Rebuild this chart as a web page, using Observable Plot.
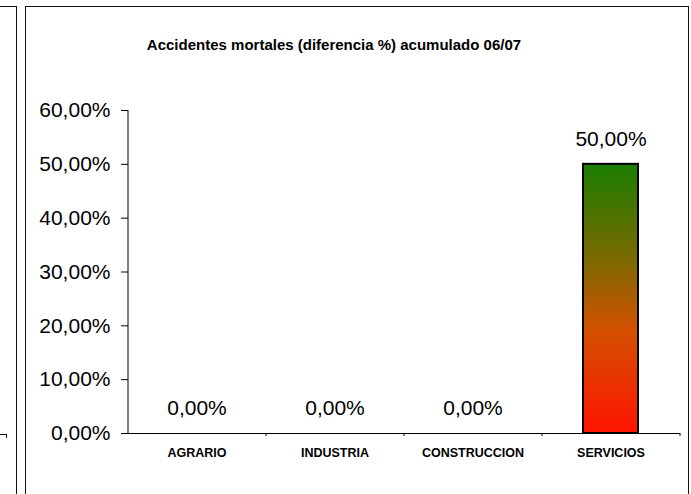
<!DOCTYPE html>
<html>
<head>
<meta charset="utf-8">
<script src="https://cdn.jsdelivr.net/npm/d3@7"></script>
<script src="https://cdn.jsdelivr.net/npm/@observablehq/plot@0.6"></script>
<style>
html, body { margin: 0; padding: 0; background: #fff; }
#wrap { position: relative; width: 691px; height: 494px; overflow: hidden; font-family: "Liberation Sans", Arial, sans-serif; }
.box { position: absolute; box-sizing: border-box; border: 1px solid #111; }
.ln { position: absolute; background: #111; }
#title { position: absolute; left: 134px; top: 36px; width: 400px; text-align: center; font-weight: bold; font-size: 15px; line-height: 18px; color: #000; white-space: nowrap; }
#chart { position: absolute; left: 0; top: 0; }
</style>
</head>
<body>
<div id="wrap">
  <div class="box" style="left:-10px; top:6px; width:27px; height:520px;"></div>
  <div class="box" style="left:25px; top:6px; width:664px; height:520px;"></div>
  <div class="ln" style="left:0px; top:434px; width:7px; height:1px;"></div>
  <div class="ln" style="left:6px; top:434px; width:1px; height:4px;"></div>
  <div id="title">Accidentes mortales (diferencia %) acumulado 06/07</div>
  <div id="chart"></div>
</div>
<script>
const categories = ["AGRARIO", "INDUSTRIA", "CONSTRUCCION", "SERVICIOS"];
const values = [0, 0, 0, 50];
const yTicks = [0, 10, 20, 30, 40, 50, 60];

const data = categories.map((c, i) => ({category: c, value: values[i]}));
const W = 691, H = 494, mL = 128, mR = 11, mT = 110, mB = 61;
const step = (W - mL - mR) / categories.length;
const fmt = v => v.toFixed(2).replace(".", ",") + "%";

const defs = () => {
  const s = d3.create("svg:defs");
  const g = s.append("linearGradient").attr("id", "barGrad")
    .attr("x1", 0).attr("y1", 0).attr("x2", 0).attr("y2", 1);
  [[0, "#1a7d00"], [0.35, "#7a6a00"], [0.62, "#d45000"], [1, "#ff1400"]].forEach(([o, c]) =>
    g.append("stop").attr("offset", o).attr("stop-color", c));
  return s.node();
};

const plot = Plot.plot({
  width: W, height: H,
  marginLeft: mL, marginRight: mR, marginTop: mT, marginBottom: mB,
  style: {fontFamily: '"Liberation Sans", Arial, sans-serif', background: "transparent", color: "#000", overflow: "visible"},
  x: {domain: categories, paddingInner: 0.6, paddingOuter: 0.3, label: null},
  y: {domain: [0, 60], label: null},
  marks: [
    defs,
    Plot.barY(data, {x: "category", y: "value", fill: "url(#barGrad)", stroke: "#000", strokeWidth: 2}),
    Plot.axisY({ticks: yTicks, tickFormat: fmt, tickSize: 7, tickPadding: 11, fontSize: 21, label: null}),
    Plot.axisX({tickSize: 0, tickPadding: 14.5, fontSize: 12.5, fontWeight: "bold", label: null}),
    Plot.ruleY([0]),
    Plot.ruleX([categories[0]], {dx: -step / 2, y1: 0, y2: 60}),
    Plot.ruleX(categories, {dx: step / 2, y1: 0, y2: 0, insetBottom: -3}),
    Plot.text(data, {x: "category", y: "value", text: d => fmt(d.value), dy: -25, fontSize: 21})
  ]
});
document.getElementById("chart").appendChild(plot);
</script>
</body>
</html>
